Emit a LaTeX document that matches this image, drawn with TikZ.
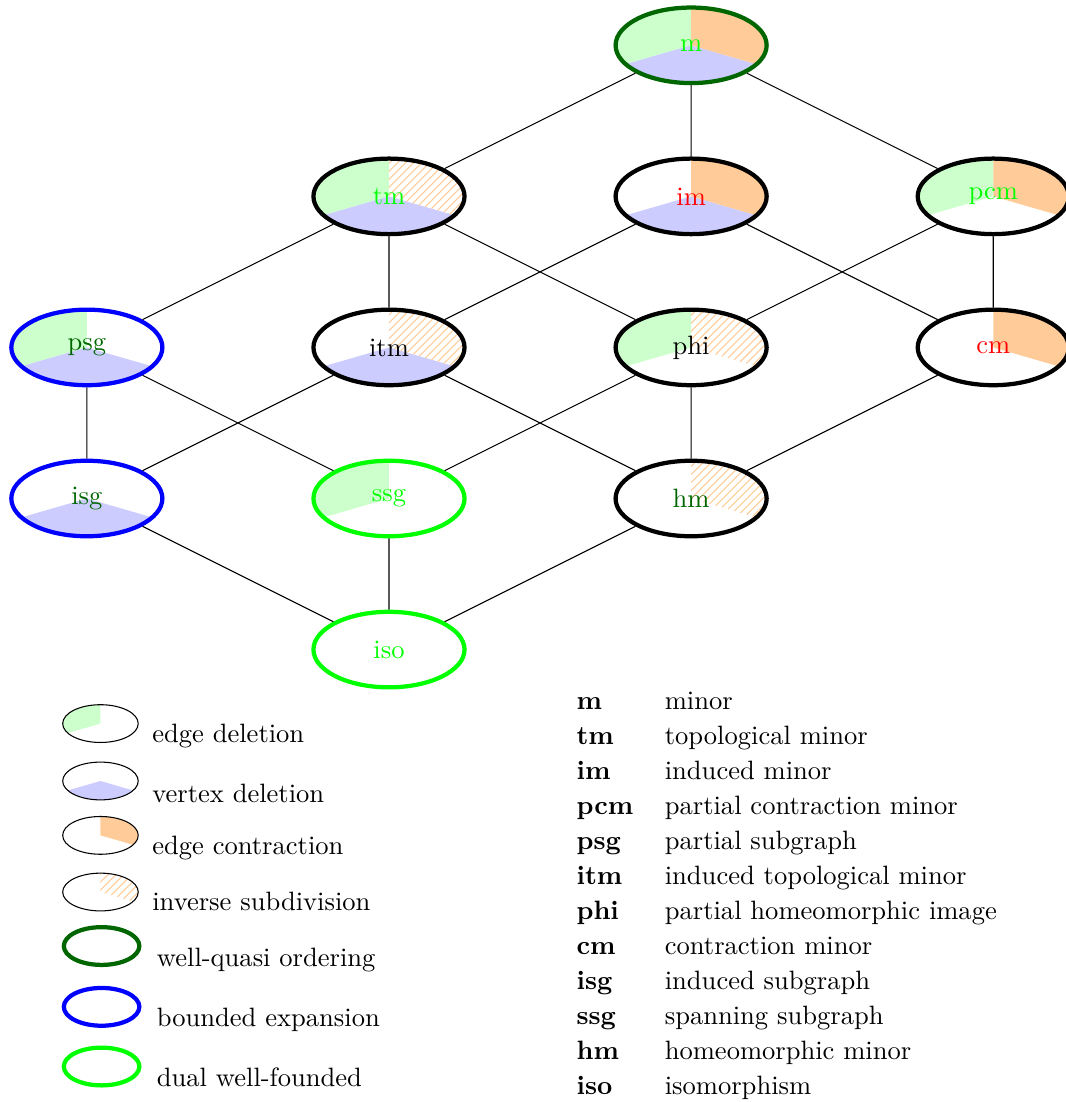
\documentclass[tikz,border=0pt]{standalone}
\usetikzlibrary{shapes.geometric,patterns,backgrounds}
\definecolor{dkgreen}{rgb}{0,0.4,0}
\tikzset{
  rel/.style={ellipse, draw, ultra thick, minimum width=2cm, minimum height=1cm, inner sep=0pt},
  leg/.style={ellipse, draw, thin, minimum width=1cm, minimum height=0.5cm, inner sep=0pt},
  legthick/.style={leg, ultra thick},
  gfill/.style={fill=green!20},
  bfill/.style={fill=blue!20},
  ofill/.style={fill=orange!40},
  hfill/.style={pattern=north east lines, pattern color=orange!40},
  conn/.style={draw, thin},
  legtxt/.style={anchor=base west, inner sep=0pt},
}
\newcommand{\wedgeTL}[3]{%
  \begin{scope}[shift={(#1)},scale=#2]
    \clip (0,0) ellipse [x radius=1, y radius=0.5];
    \path[#3] (0,0) -- (0,1) -- (-2.2,1) -- (-2.165,-0.625) -- cycle;
  \end{scope}}
\newcommand{\wedgeTR}[3]{%
  \begin{scope}[shift={(#1)},scale=#2]
    \clip (0,0) ellipse [x radius=1, y radius=0.5];
    \path[#3] (0,0) -- (0,1) -- (2.2,1) -- (2.165,-0.625) -- cycle;
  \end{scope}}
\newcommand{\wedgeBT}[3]{%
  \begin{scope}[shift={(#1)},scale=#2]
    \clip (0,0) ellipse [x radius=1, y radius=0.5];
    \path[#3] (0,0) -- (-2.165,-0.625) -- (-2.2,-1) -- (2.2,-1) -- (2.165,-0.625) -- cycle;
  \end{scope}}
\begin{document}
\begin{tikzpicture}
\useasboundingbox (0,0) rectangle (14.10,-14.59);
% relation nodes
\node[rel, draw=dkgreen, text=green] (m) at (9.15,-0.6) {m};
\node[rel, text=green] (tm) at (5.15,-2.6) {tm};
\node[rel, text=red] (im) at (9.15,-2.6) {im};
\node[rel, text=green] (pcm) at (13.15,-2.6) {pcm};
\node[rel, draw=blue, text=dkgreen] (psg) at (1.15,-4.6) {psg};
\node[rel] (itm) at (5.15,-4.6) {itm};
\node[rel] (phi) at (9.15,-4.6) {phi};
\node[rel, text=red] (cm) at (13.15,-4.6) {cm};
\node[rel, draw=blue, text=dkgreen] (isg) at (1.15,-6.6) {isg};
\node[rel, draw=green, text=green] (ssg) at (5.15,-6.6) {ssg};
\node[rel, text=dkgreen] (hm) at (9.15,-6.6) {hm};
\node[rel, draw=green, text=green] (iso) at (5.15,-8.6) {iso};
% connectors
\path[conn] (m) -- (tm) (m) -- (im) (m) -- (pcm)
  (tm) -- (psg) (tm) -- (itm) (tm) -- (phi)
  (im) -- (itm) (im) -- (cm)
  (pcm) -- (phi) (pcm) -- (cm)
  (psg) -- (isg) (psg) -- (ssg)
  (itm) -- (isg) (itm) -- (hm)
  (phi) -- (ssg) (phi) -- (hm)
  (cm) -- (hm)
  (isg) -- (iso) (ssg) -- (iso) (hm) -- (iso);
% legend (left)
\node[leg] (l1) at (1.33,-9.58) {};
\node[leg] (l2) at (1.33,-10.34) {};
\node[leg] (l3) at (1.33,-11.06) {};
\node[leg] (l4) at (1.33,-11.81) {};
\node[legthick, draw=dkgreen] (l5) at (1.345,-12.525) {};
\node[legthick, draw=blue] (l6) at (1.345,-13.33) {};
\node[legthick, draw=green] (l7) at (1.345,-14.12) {};
\node[legtxt] (t1) at (2.01,-9.824) {edge deletion};
\node[legtxt] (t2) at (2.01,-10.63) {vertex deletion};
\node[legtxt] (t3) at (2.01,-11.31) {edge contraction};
\node[legtxt] (t4) at (2.01,-12.06) {inverse subdivision};
\node[legtxt] (t5) at (2.07,-12.80) {well-quasi ordering};
\node[legtxt] (t6) at (2.07,-13.59) {bounded expansion};
\node[legtxt] (t7) at (2.07,-14.39) {dual well-founded};
% legend (right)
\foreach \ab/\desc [count=\i from 0] in {m/minor, tm/topological minor, im/induced minor, pcm/partial contraction minor, psg/partial subgraph, itm/induced topological minor, phi/partial homeomorphic image, cm/contraction minor, isg/induced subgraph, ssg/spanning subgraph, hm/homeomorphic minor, iso/isomorphism}{
  \node[legtxt] (ab\i) at (7.626,{-9.400-0.4626*\i}) {\textbf{\ab}};
  \node[legtxt] (de\i) at (8.795,{-9.400-0.4626*\i}) {\desc};
}
% sector fills
\begin{pgfonlayer}{background}
  \wedgeTL{m.center}{1}{gfill}\wedgeBT{m.center}{1}{bfill}\wedgeTR{m.center}{1}{ofill}
  \wedgeTL{tm.center}{1}{gfill}\wedgeBT{tm.center}{1}{bfill}\wedgeTR{tm.center}{1}{hfill}
  \wedgeBT{im.center}{1}{bfill}\wedgeTR{im.center}{1}{ofill}
  \wedgeTL{pcm.center}{1}{gfill}\wedgeTR{pcm.center}{1}{ofill}
  \wedgeTL{psg.center}{1}{gfill}\wedgeBT{psg.center}{1}{bfill}
  \wedgeBT{itm.center}{1}{bfill}\wedgeTR{itm.center}{1}{hfill}
  \wedgeTL{phi.center}{1}{gfill}\wedgeTR{phi.center}{1}{hfill}
  \wedgeTR{cm.center}{1}{ofill}
  \wedgeBT{isg.center}{1}{bfill}
  \wedgeTL{ssg.center}{1}{gfill}
  \wedgeTR{hm.center}{1}{hfill}
  \wedgeTL{l1.center}{0.5}{gfill}
  \wedgeBT{l2.center}{0.5}{bfill}
  \wedgeTR{l3.center}{0.5}{ofill}
  \wedgeTR{l4.center}{0.5}{hfill}
\end{pgfonlayer}
\end{tikzpicture}
\end{document}
